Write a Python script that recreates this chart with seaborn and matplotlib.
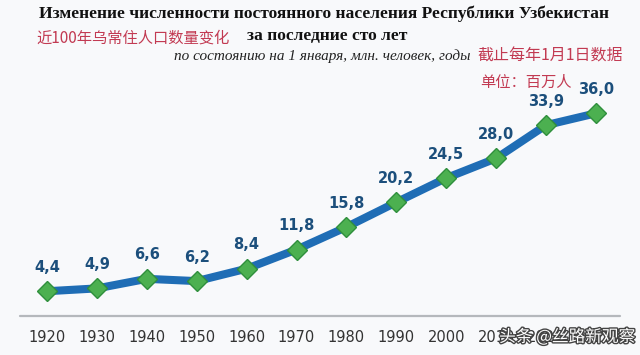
import pandas as pd
import matplotlib
matplotlib.use('Agg')
import matplotlib.pyplot as plt
import matplotlib.patheffects as pe
import seaborn as sns

# Population of Uzbekistan, mln people, as of 1 January
years = ['1920', '1930', '1940', '1950', '1960', '1970', '1980',
         '1990', '2000', '2010', '2020', '2023']
population = [4.4, 4.9, 6.6, 6.2, 8.4, 11.8, 15.8, 20.2, 24.5, 28.0, 33.9, 36.0]
labels = ['4,4', '4,9', '6,6', '6,2', '8,4', '11,8', '15,8', '20,2',
          '24,5', '28,0', '33,9', '36,0']

df = pd.DataFrame({'year': years, 'pop': population})
df['pos'] = range(len(df))

sns.set_style('white')
plt.rcParams['font.family'] = ['DejaVu Sans', 'Noto Sans CJK SC']

W, H = 640, 355
fig = plt.figure(figsize=(W / 100, H / 100), dpi=100)
fig.patch.set_facecolor('#f8f9fb')

ax = fig.add_axes([0, 39 / H, 1, 316 / H])
ax.set_facecolor('#f8f9fb')

sns.lineplot(data=df, x='pos', y='pop', ax=ax, color='#1f6db5', linewidth=5.8,
             marker='D', markersize=10.5, markerfacecolor='#4cb050',
             markeredgecolor='#2f8f3c', markeredgewidth=1, legend=False)
ax.lines[0].set_solid_joinstyle('round')

for i, (v, lab) in enumerate(zip(population, labels)):
    ax.annotate(lab, (i, v), xytext=(0, 24), textcoords='offset pixels',
                ha='center', va='center', fontsize=10.5, fontweight='bold',
                color='#1c4f7c')

ax.set_xlim(-47 / 49.9, (W - 47) / 49.9)
ax.set_ylim(0, 316 / 5.63)
ax.set_xticks(df['pos'])
ax.set_xticklabels(years, fontsize=10.5, color='#333333')
ax.tick_params(axis='x', length=0, pad=10)
ax.set_yticks([])
ax.set_xlabel('')
ax.set_ylabel('')
for s in ax.spines.values():
    s.set_visible(False)
ax.axhline(0, xmin=20 / W, xmax=620 / W, color='#b5b8bc', linewidth=1.6, clip_on=False)


def px(x, y):
    return x / W, 1 - y / H


serif = ['Liberation Serif', 'DejaVu Serif']
cjk = ['Noto Sans CJK SC', 'DejaVu Sans']
red = '#c23a52'

fig.text(*px(324, 14), 'Изменение численности постоянного населения Республики Узбекистан',
         ha='center', va='center', fontsize=12.6, fontweight='bold', family=serif, color='#111111')
fig.text(*px(327, 36), 'за последние сто лет', ha='center', va='center',
         fontsize=12.6, fontweight='bold', family=serif, color='#111111')
fig.text(*px(36, 38), '近100年乌常住人口数量变化', ha='left', va='center',
         fontsize=11, family=cjk, color=red)
fig.text(*px(471, 56), 'по состоянию на 1 января, млн. человек, годы', ha='right', va='center',
         fontsize=11, style='italic', family=serif, color='#222222')
fig.text(*px(477, 56), '截止每年1月1日数据', ha='left', va='center',
         fontsize=11.5, family=cjk, color=red)
fig.text(*px(480, 82), '单位：百万人', ha='left', va='center',
         fontsize=11, family=cjk, color=red)

fig.text(*px(635, 337), '头条 @丝路新观察', ha='right', va='center', fontsize=12,
         family=cjk, color='white',
         path_effects=[pe.withStroke(linewidth=2, foreground='#444444')])

fig.savefig('out.png', dpi=100, facecolor=fig.get_facecolor())
